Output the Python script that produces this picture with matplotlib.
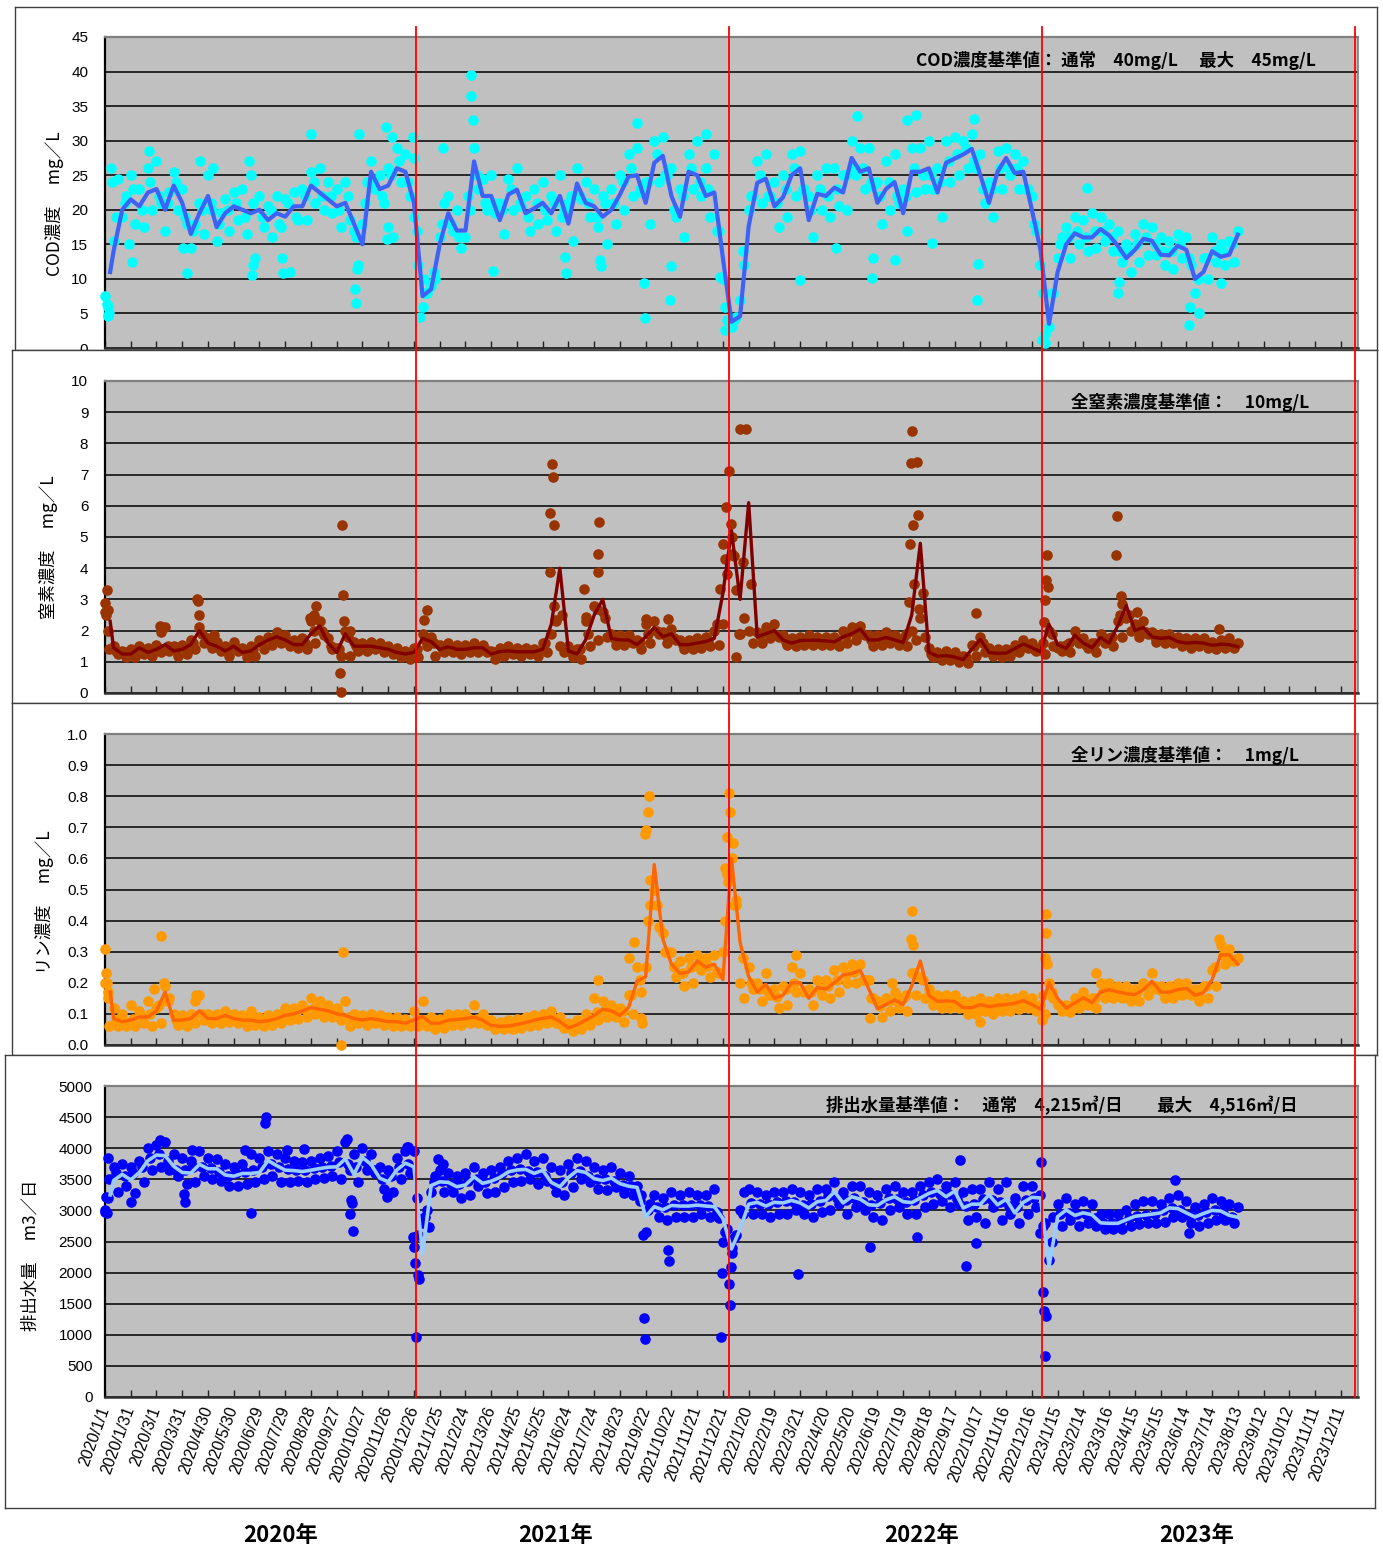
# ── IMPORTS ──────────────────────────────────────────────
import numpy as np
import pandas as pd
import matplotlib
matplotlib.use('Agg')
import matplotlib.pyplot as plt
from matplotlib.lines import Line2D

JP = ['Noto Sans CJK JP', 'DejaVu Sans']
NUM = ['Liberation Sans', 'DejaVu Sans']
plt.rcParams['font.family'] = JP

# ── DATA ─────────────────────────────────────────────────
# x values are days counted from 2020/1/1
start = pd.Timestamp('2020-01-01')
line_days = np.r_[6, np.arange(10, 1330, 10)]      # moving-average line
dot_days = np.arange(0, 1325, 5)                    # daily samples (thinned)
mid_days = np.arange(3, 1323, 10)                   # extra samples in between

cod_line = [11,
    14, 20, 21.5, 20.5, 22.5, 23, 20, 23.5, 21, 16.5,
    19.5, 22, 17.5, 19.5, 20.5, 20, 19.5, 20, 18.5, 19.5,
    19, 20.5, 20.5, 23.5, 22.5, 21.5, 20.5, 21, 18, 15,
    25.5, 23, 23.5, 26, 25.5, 21, 7.5, 8.5, 15, 19.5,
    17, 17, 27, 22, 22, 18.5, 22.2, 22.9, 19.5, 20.2,
    21, 19.5, 22, 18, 23.8, 21, 20.5, 19, 20, 22.2,
    24.8, 25, 21, 26.8, 27.8, 22, 19, 25.5, 25, 22,
    22.5, 13, 3.8, 4.6, 17.6, 23.9, 24.5, 20.5, 21.8, 25,
    26, 18.5, 22.3, 22, 23.2, 22.5, 27.5, 25.5, 26, 21,
    23, 24, 19.5, 25.5, 25.5, 26, 22.5, 26.8, 27.4, 28,
    28.8, 25, 21, 25.5, 27.5, 25.3, 25.5, 20, 14.2, 3.5,
    11, 15, 16.6, 16, 16, 17.2, 16.3, 14.8, 13, 14.2,
    15.8, 15.5, 13.5, 13.4, 14.8, 14.2, 10, 11, 14, 13.2,
    13.5, 16.4]
cod_dots = [
    7.5, 5, 15.5, 24.5, 19, 22, 25, 18, 23, 17.5,
    26, 20, 27, 21, 17, 22.5, 25.5, 20, 23, 18,
    14.5, 18, 21, 16.5, 25, 20, 15.5, 19.5, 21.5, 17,
    22.5, 18.5, 23, 16.5, 25, 13, 22, 17.5, 20.5, 16,
    22, 17.5, 21.5, 11, 22.5, 18.5, 23, 18.5, 25.5, 21,
    26, 20, 24, 19.5, 23, 17.5, 24, 18.5, 17, 12,
    18, 24, 27, 23, 25, 21, 26, 16, 29, 24,
    28, 22, 19, 12, 6, 8, 9, 10, 16, 21,
    22, 17, 20, 14.5, 16, 20, 29, 23, 24.5, 20,
    25, 19.5, 21, 16.5, 24.5, 20, 26, 20.5, 22, 17,
    23, 18, 24, 18.5, 22, 17, 25, 20, 21, 15.5,
    26, 21.5, 24, 19, 23, 17.5, 22, 15, 23, 18,
    25, 20, 28, 22, 29, 22.5, 24, 18, 30, 24,
    30.5, 25, 26, 19, 23, 16, 28, 23, 30, 22,
    26, 19, 28, 17, 10, 4, 3, 4.5, 7, 12,
    20, 22, 27, 21, 28, 22, 24, 17.5, 25, 19,
    28, 22, 28.5, 23, 22, 16, 25, 20, 26, 19,
    26, 20.5, 25, 20, 30, 25, 29, 23, 29, 23.5,
    24, 18, 27, 20, 28, 21, 23, 17, 29, 22.5,
    29, 23, 30, 23, 26, 19, 30, 24, 30.5, 25,
    30, 26, 31, 26, 28, 21, 24, 19, 28.5, 23,
    29, 25, 28, 23, 27, 23, 22, 17, 12, 2,
    3, 8, 13, 16, 17.5, 13, 19, 15, 18.5, 14,
    19.5, 14.5, 19, 15.5, 18, 14, 17, 12.5, 15, 11,
    16.5, 12.5, 18, 13.5, 17.5, 13.5, 16, 12, 15.5, 11.5,
    16.5, 13, 16, 12, 8, 5, 13, 10, 16, 12.5,
    15, 12, 15.5, 12.5, 17]
cod_mid = [6,
    19, 21, 23, 20, 24, 22, 21, 24, 19, 17,
    20, 21, 18, 20, 21, 19, 21, 19, 20, 18,
    21, 19, 22, 24, 22, 22, 20, 22, 16, 21,
    24, 22, 25, 27, 24, 17, 8, 11, 18, 18,
    16, 22, 25, 21, 21, 20, 23, 21, 19, 21,
    20, 21, 19, 22, 22, 21, 19, 21, 21, 24,
    26, 23, 24, 28, 25, 20, 22, 26, 24, 23,
    17, 6, 4, 14, 22, 25, 22, 21, 23, 26,
    23, 20, 23, 22, 23, 25, 26, 26, 24, 22,
    24, 22, 22, 26, 25, 25, 24, 27, 28, 29,
    27, 23, 23, 26, 26, 26, 23, 18, 8, 8,
    15, 16, 17, 16, 17, 17, 16, 14, 14, 15,
    16, 15, 14, 14, 15, 13, 10, 13, 14, 14,
    15]
cod_out_day = [2, 3, 7, 8, 28, 31, 51, 91, 96, 111, 126, 168, 171, 172, 206, 207,
               240, 291, 292, 294, 296, 327, 334, 330, 329, 359, 360, 367, 372, 394,
               426, 427, 429, 452, 536, 537, 577, 578, 628, 629, 658, 660, 620, 700,
               717, 722, 810, 852, 894, 895, 921, 876, 935, 945, 1013, 1016, 1017,
               964, 1144, 1092, 1095, 1180, 1181, 1263, 1264, 1300]
cod_out_val = [6.3, 4.7, 26, 24, 15, 12.5, 28.5, 14.5, 10.8, 27, 26, 27, 10.5, 12, 13, 10.8,
               31, 8.5, 6.5, 11.5, 31, 32, 30.5, 17.5, 15.8, 30.5, 27.5, 4.5, 10, 29,
               39.5, 36.5, 33, 11.2, 13.2, 10.8, 12.7, 11.8, 9.4, 4.3, 6.9, 11.8, 32.5, 31,
               10.3, 2.6, 9.9, 14.5, 10.1, 13, 12.7, 33.5, 33, 33.7, 33.2, 6.9, 12.2,
               15.2, 23.1, 1.2, 0.7, 7.9, 9.6, 3.4, 6, 9.4]

n_line = [2.3,
    1.45, 1.25, 1.25, 1.45, 1.3, 1.4, 1.55, 1.35, 1.4, 1.55,
    2.0, 1.6, 1.5, 1.35, 1.5, 1.3, 1.35, 1.55, 1.7, 1.8,
    1.7, 1.55, 1.55, 1.9, 2.15, 1.6, 1.3, 1.9, 1.5, 1.5,
    1.5, 1.45, 1.4, 1.3, 1.25, 1.3, 1.75, 1.65, 1.4, 1.48,
    1.4, 1.4, 1.45, 1.45, 1.25, 1.33, 1.35, 1.32, 1.32, 1.32,
    1.4, 2.2, 4.0, 1.35, 1.25, 1.7, 2.5, 3.0, 1.75, 1.7,
    1.7, 1.55, 1.8, 2.1, 1.8, 1.9, 1.55, 1.55, 1.6, 1.65,
    1.75, 3.2, 5.2, 3.0, 6.1, 1.8, 1.9, 2.0, 1.7, 1.6,
    1.68, 1.69, 1.69, 1.67, 1.64, 1.8, 1.9, 2.05, 1.7, 1.7,
    1.78, 1.7, 1.62, 2.5, 4.8, 1.3, 1.18, 1.2, 1.15, 1.07,
    1.4, 1.72, 1.3, 1.27, 1.28, 1.42, 1.57, 1.45, 1.32, 2.2,
    1.55, 1.43, 1.85, 1.6, 1.45, 1.78, 1.6, 2.15, 2.8, 2.0,
    2.1, 1.8, 1.75, 1.78, 1.65, 1.6, 1.62, 1.6, 1.53, 1.56,
    1.55, 1.48]
n_dots = [
    2.6, 1.4, 1.5, 1.25, 1.35, 1.15, 1.4, 1.15, 1.5, 1.25,
    1.45, 1.2, 1.55, 1.3, 2.1, 1.35, 1.5, 1.2, 1.55, 1.25,
    1.7, 1.4, 2.1, 1.6, 1.75, 1.45, 1.65, 1.35, 1.5, 1.2,
    1.65, 1.35, 1.45, 1.15, 1.5, 1.2, 1.7, 1.4, 1.8, 1.55,
    1.95, 1.6, 1.85, 1.5, 1.7, 1.45, 1.75, 1.4, 2.3, 1.6,
    2.3, 1.85, 1.75, 1.4, 1.45, 1.2, 2.0, 1.2, 1.65, 1.35,
    1.6, 1.35, 1.65, 1.4, 1.6, 1.3, 1.5, 1.25, 1.45, 1.15,
    1.35, 1.1, 1.45, 1.15, 1.9, 1.5, 1.8, 1.2, 1.55, 1.3,
    1.6, 1.3, 1.55, 1.25, 1.55, 1.3, 1.6, 1.3, 1.55, 1.3,
    1.35, 1.1, 1.45, 1.2, 1.5, 1.25, 1.45, 1.2, 1.45, 1.25,
    1.4, 1.2, 1.6, 1.3, 1.9, 2.3, 1.5, 1.3, 1.5, 1.15,
    1.4, 1.1, 2.3, 1.5, 2.8, 1.7, 2.6, 1.8, 1.9, 1.55,
    1.85, 1.55, 1.85, 1.6, 1.7, 1.4, 2.2, 1.6, 2.3, 1.9,
    1.95, 1.6, 2.05, 1.7, 1.7, 1.4, 1.7, 1.4, 1.75, 1.45,
    1.8, 1.5, 2.0, 1.55, 2.2, 3.8, 5.0, 3.3, 1.9, 2.4,
    2.0, 1.6, 1.95, 1.6, 2.1, 1.75, 2.2, 1.8, 1.85, 1.55,
    1.75, 1.5, 1.8, 1.55, 1.85, 1.55, 1.8, 1.55, 1.8, 1.55,
    1.8, 1.5, 2.0, 1.6, 2.1, 1.7, 2.15, 1.85, 1.85, 1.5,
    1.85, 1.55, 1.95, 1.6, 1.85, 1.55, 1.75, 1.5, 2.0, 1.7,
    2.4, 1.8, 1.45, 1.15, 1.3, 1.05, 1.35, 1.05, 1.3, 1.0,
    1.2, 0.95, 1.55, 1.2, 1.8, 1.3, 1.45, 1.2, 1.4, 1.15,
    1.4, 1.2, 1.55, 1.3, 1.7, 1.45, 1.6, 1.35, 1.45, 1.25,
    2.0, 1.5, 1.45, 1.35, 1.55, 1.3, 2.0, 1.6, 1.75, 1.45,
    1.6, 1.3, 1.9, 1.6, 1.75, 1.5, 2.3, 1.8, 2.4, 2.0,
    2.2, 1.8, 2.3, 1.9, 1.95, 1.65, 1.9, 1.6, 1.9, 1.6,
    1.8, 1.5, 1.75, 1.45, 1.75, 1.5, 1.75, 1.45, 1.65, 1.4,
    1.7, 1.45, 1.75, 1.45, 1.6]
n_mid = [2.0,
    1.35, 1.3, 1.3, 1.4, 1.35, 1.45, 1.5, 1.4, 1.45, 1.6,
    1.9, 1.55, 1.45, 1.4, 1.45, 1.35, 1.4, 1.6, 1.75, 1.75,
    1.65, 1.55, 1.6, 2.0, 2.0, 1.5, 1.4, 1.8, 1.5, 1.5,
    1.5, 1.45, 1.35, 1.3, 1.25, 1.4, 1.7, 1.6, 1.45, 1.45,
    1.4, 1.45, 1.45, 1.4, 1.3, 1.35, 1.35, 1.3, 1.35, 1.35,
    1.6, 2.8, 2.5, 1.3, 1.4, 1.9, 2.7, 2.4, 1.75, 1.7,
    1.65, 1.65, 1.9, 2.0, 1.85, 1.75, 1.55, 1.6, 1.6, 1.7,
    2.2, 4.3, 4.4, 4.2, 3.5, 1.85, 1.95, 1.85, 1.65, 1.65,
    1.7, 1.7, 1.7, 1.65, 1.7, 1.85, 1.95, 1.9, 1.7, 1.75,
    1.75, 1.65, 1.9, 3.5, 3.2, 1.25, 1.2, 1.2, 1.1, 1.15,
    1.5, 1.6, 1.3, 1.3, 1.35, 1.5, 1.5, 1.4, 1.6, 1.9,
    1.5, 1.6, 1.75, 1.55, 1.6, 1.7, 1.8, 2.5, 2.5, 2.05,
    1.95, 1.8, 1.75, 1.72, 1.62, 1.6, 1.62, 1.58, 1.55, 1.55,
    1.52]
n_out_day = [0, 1, 2, 4, 64, 65, 107, 108, 109, 127, 239, 246, 244, 276, 277, 278,
             274, 275, 285, 375, 372, 521, 522, 519, 523, 518, 524, 576, 574, 575,
             558, 560, 656, 630, 727, 724, 720, 717, 740, 747, 729, 730, 735, 739,
             940, 939, 946, 947, 941, 938, 937, 948, 1015, 1098, 1097, 1099, 1095,
             1094, 1179, 1178, 1184, 1185, 1202, 1298]
n_out_val = [2.9, 2.5, 3.3, 2.65, 2.15, 1.95, 3.0, 2.95, 2.5, 1.85, 2.4, 2.8, 2.5, 5.4, 3.15, 2.3,
             0.65, 0.02, 2.0, 2.65, 2.33, 7.33, 6.93, 5.76, 5.39, 3.87, 2.33, 5.49, 4.46, 3.87,
             3.34, 2.44, 2.38, 2.38, 7.12, 5.97, 4.78, 3.34, 8.45, 8.45, 5.41, 4.46, 1.16, 1.9,
             8.39, 7.38, 7.41, 5.7, 5.39, 4.78, 2.91, 2.7, 2.56, 4.43, 3.61, 3.39, 2.97,
             2.28, 5.68, 4.43, 3.1, 2.86, 2.6, 2.06]

p_line = [0.17,
    0.085, 0.075, 0.08, 0.09, 0.09, 0.11, 0.17, 0.08, 0.08, 0.085,
    0.11, 0.085, 0.085, 0.095, 0.085, 0.08, 0.08, 0.075, 0.078, 0.085,
    0.095, 0.1, 0.11, 0.12, 0.115, 0.11, 0.1, 0.095, 0.085, 0.08,
    0.085, 0.08, 0.075, 0.075, 0.07, 0.08, 0.092, 0.07, 0.07, 0.08,
    0.082, 0.085, 0.09, 0.08, 0.063, 0.06, 0.061, 0.066, 0.072, 0.08,
    0.086, 0.09, 0.075, 0.055, 0.065, 0.08, 0.095, 0.115, 0.11, 0.095,
    0.12, 0.205, 0.22, 0.58, 0.34, 0.26, 0.23, 0.235, 0.27, 0.25,
    0.26, 0.21, 0.6, 0.33, 0.22, 0.17, 0.195, 0.15, 0.16, 0.2,
    0.2, 0.15, 0.185, 0.18, 0.2, 0.225, 0.23, 0.24, 0.18, 0.117,
    0.13, 0.145, 0.13, 0.19, 0.27, 0.16, 0.14, 0.142, 0.14, 0.12,
    0.12, 0.13, 0.123, 0.128, 0.13, 0.134, 0.143, 0.13, 0.115, 0.2,
    0.15, 0.118, 0.135, 0.152, 0.136, 0.17, 0.178, 0.171, 0.165, 0.162,
    0.178, 0.205, 0.17, 0.17, 0.178, 0.182, 0.16, 0.168, 0.21, 0.29,
    0.29, 0.26]
p_dots = [
    0.2, 0.06, 0.12, 0.06, 0.1, 0.06, 0.13, 0.06, 0.11, 0.07,
    0.14, 0.06, 0.12, 0.07, 0.19, 0.15, 0.1, 0.065, 0.095, 0.06,
    0.1, 0.07, 0.16, 0.08, 0.1, 0.07, 0.1, 0.07, 0.11, 0.075,
    0.1, 0.07, 0.095, 0.06, 0.11, 0.065, 0.09, 0.06, 0.095, 0.065,
    0.1, 0.07, 0.12, 0.08, 0.12, 0.085, 0.13, 0.09, 0.15, 0.1,
    0.14, 0.09, 0.13, 0.09, 0.12, 0.08, 0.14, 0.06, 0.1, 0.07,
    0.095, 0.065, 0.1, 0.07, 0.095, 0.065, 0.09, 0.06, 0.09, 0.06,
    0.085, 0.06, 0.11, 0.06, 0.14, 0.06, 0.09, 0.05, 0.085, 0.055,
    0.1, 0.065, 0.1, 0.065, 0.1, 0.07, 0.13, 0.07, 0.1, 0.065,
    0.08, 0.05, 0.075, 0.05, 0.08, 0.05, 0.085, 0.055, 0.09, 0.06,
    0.095, 0.065, 0.1, 0.07, 0.11, 0.07, 0.09, 0.055, 0.07, 0.045,
    0.08, 0.05, 0.1, 0.065, 0.15, 0.08, 0.14, 0.09, 0.13, 0.09,
    0.12, 0.075, 0.16, 0.1, 0.25, 0.17, 0.25, 0.45, 0.5, 0.38,
    0.36, 0.3, 0.3, 0.22, 0.27, 0.19, 0.28, 0.2, 0.29, 0.24,
    0.28, 0.22, 0.29, 0.23, 0.3, 0.55, 0.6, 0.45, 0.2, 0.15,
    0.25, 0.18, 0.2, 0.14, 0.23, 0.16, 0.18, 0.12, 0.19, 0.13,
    0.25, 0.17, 0.23, 0.17, 0.18, 0.13, 0.21, 0.16, 0.21, 0.15,
    0.24, 0.17, 0.25, 0.2, 0.26, 0.2, 0.26, 0.21, 0.21, 0.15,
    0.14, 0.09, 0.15, 0.11, 0.17, 0.12, 0.15, 0.11, 0.23, 0.16,
    0.22, 0.15, 0.18, 0.13, 0.16, 0.12, 0.16, 0.12, 0.16, 0.12,
    0.14, 0.1, 0.14, 0.1, 0.15, 0.11, 0.14, 0.1, 0.15, 0.11,
    0.15, 0.11, 0.15, 0.115, 0.16, 0.12, 0.15, 0.11, 0.13, 0.1,
    0.2, 0.15, 0.13, 0.11, 0.13, 0.105, 0.15, 0.12, 0.17, 0.13,
    0.15, 0.12, 0.2, 0.15, 0.2, 0.15, 0.19, 0.15, 0.19, 0.14,
    0.18, 0.14, 0.2, 0.16, 0.23, 0.18, 0.19, 0.15, 0.19, 0.15,
    0.2, 0.16, 0.2, 0.16, 0.18, 0.14, 0.19, 0.15, 0.24, 0.19,
    0.32, 0.26, 0.31, 0.27, 0.28]
p_mid = [0.15,
    0.08, 0.075, 0.085, 0.09, 0.1, 0.13, 0.14, 0.08, 0.085, 0.095,
    0.1, 0.085, 0.09, 0.09, 0.085, 0.08, 0.08, 0.078, 0.08, 0.09,
    0.1, 0.105, 0.115, 0.12, 0.11, 0.105, 0.1, 0.09, 0.085, 0.082,
    0.085, 0.078, 0.075, 0.072, 0.075, 0.085, 0.08, 0.07, 0.075, 0.08,
    0.085, 0.087, 0.085, 0.07, 0.062, 0.06, 0.063, 0.07, 0.076, 0.083,
    0.088, 0.083, 0.065, 0.06, 0.072, 0.088, 0.105, 0.112, 0.1, 0.11,
    0.16, 0.21, 0.4, 0.45, 0.3, 0.25, 0.23, 0.25, 0.26, 0.255,
    0.235, 0.4, 0.45, 0.28, 0.2, 0.18, 0.17, 0.155, 0.18, 0.2,
    0.175, 0.17, 0.18, 0.19, 0.21, 0.228, 0.235, 0.21, 0.15, 0.125,
    0.14, 0.14, 0.16, 0.23, 0.21, 0.15, 0.14, 0.14, 0.13, 0.12,
    0.125, 0.127, 0.125, 0.13, 0.132, 0.138, 0.137, 0.122, 0.16, 0.17,
    0.13, 0.125, 0.145, 0.145, 0.15, 0.175, 0.175, 0.168, 0.163, 0.17,
    0.19, 0.19, 0.17, 0.175, 0.18, 0.172, 0.164, 0.19, 0.25, 0.29,
    0.275]
p_out_day = [0, 1, 2, 3, 65, 57, 69, 106, 105, 277, 275, 634, 633, 630, 629, 635,
             616, 611, 574, 625, 626, 727, 728, 725, 732, 722, 726, 735, 805, 940,
             939, 941, 917, 1096, 1097, 1095, 1098, 1092, 1020, 1298, 1155, 891]
p_out_val = [0.31, 0.23, 0.2, 0.17, 0.35, 0.18, 0.2, 0.16, 0.14, 0.3, 0.0, 0.8, 0.75, 0.69, 0.68, 0.53,
             0.33, 0.28, 0.21, 0.086, 0.07, 0.81, 0.75, 0.67, 0.65, 0.57, 0.525, 0.466, 0.29, 0.43,
             0.34, 0.32, 0.2, 0.42, 0.36, 0.28, 0.26, 0.08, 0.075, 0.34, 0.23, 0.086]

q_line = [3250,
    3480, 3580, 3490, 3610, 3800, 3890, 3880, 3710, 3610, 3600,
    3740, 3670, 3670, 3570, 3550, 3594, 3594, 3610, 3800, 3720,
    3647, 3640, 3625, 3647, 3672, 3695, 3700, 3830, 3580, 3850,
    3740, 3520, 3460, 3650, 3760, 3700, 2300, 3400, 3460, 3450,
    3380, 3410, 3540, 3435, 3470, 3530, 3620, 3650, 3660, 3595,
    3645, 3450, 3380, 3530, 3640, 3610, 3510, 3480, 3520, 3430,
    3390, 3370, 2900, 3060, 3010, 3080, 3070, 3070, 3085, 3070,
    3060, 2870, 2380, 2700, 3100, 3130, 3070, 3130, 3120, 3160,
    3120, 3040, 3140, 3160, 3300, 3120, 3220, 3180, 3090, 3080,
    3170, 3220, 3140, 3125, 3200, 3274, 3320, 3220, 3310, 3040,
    3100, 3100, 3250, 3090, 3180, 2960, 3130, 3210, 3200, 2100,
    2900, 3006, 2920, 2960, 2930, 2800, 2792, 2792, 2850, 2905,
    2922, 2940, 2960, 3040, 3030, 2960, 2895, 2950, 3000, 2990,
    2920, 2890]
q_dots = [
    3000, 3500, 3700, 3300, 3750, 3400, 3700, 3280, 3800, 3450,
    4000, 3650, 4050, 3700, 4100, 3650, 3900, 3550, 3850, 3420,
    3800, 3450, 3950, 3550, 3850, 3500, 3820, 3480, 3750, 3400,
    3700, 3400, 3750, 3420, 3900, 3450, 3850, 3500, 3950, 3550,
    3900, 3450, 3850, 3450, 3800, 3480, 3780, 3460, 3800, 3500,
    3850, 3520, 3880, 3550, 3950, 3500, 4100, 3650, 3900, 3450,
    4000, 3650, 3900, 3600, 3700, 3350, 3650, 3300, 3850, 3500,
    3950, 3600, 3950, 2600, 2800, 3000, 3300, 3550, 3650, 3300,
    3600, 3300, 3550, 3200, 3600, 3250, 3700, 3400, 3600, 3280,
    3650, 3300, 3700, 3380, 3800, 3450, 3850, 3480, 3900, 3500,
    3800, 3420, 3850, 3480, 3700, 3300, 3650, 3250, 3750, 3380,
    3850, 3500, 3800, 3450, 3700, 3350, 3650, 3330, 3700, 3380,
    3600, 3280, 3550, 3250, 3400, 3250, 2650, 3100, 3250, 2900,
    3200, 2850, 3300, 2900, 3250, 2900, 3300, 2900, 3250, 2950,
    3250, 2900, 3350, 2880, 2500, 2700, 2400, 2600, 3000, 3300,
    3350, 2950, 3300, 2950, 3250, 2900, 3300, 2950, 3300, 2950,
    3350, 3000, 3300, 2950, 3250, 2900, 3350, 2980, 3350, 3000,
    3450, 3100, 3300, 2950, 3400, 3050, 3400, 3000, 3300, 2900,
    3250, 2850, 3350, 3000, 3400, 3050, 3300, 2950, 3300, 2950,
    3400, 3050, 3450, 3100, 3500, 3150, 3400, 3050, 3450, 3100,
    3300, 2850, 3350, 2900, 3350, 2800, 3450, 3050, 3350, 2850,
    3450, 2950, 3200, 2800, 3400, 2950, 3400, 3050, 3250, 2800,
    2200, 2900, 3100, 2750, 3200, 2850, 3100, 2750, 3150, 2800,
    3100, 2750, 2950, 2700, 2950, 2700, 2950, 2700, 3000, 2750,
    3100, 2780, 3150, 2800, 3150, 2800, 3100, 2820, 3200, 2900,
    3250, 2900, 3150, 2800, 3050, 2750, 3100, 2800, 3200, 2850,
    3150, 2850, 3100, 2800, 3050]
q_mid = [3200,
    3600, 3550, 3600, 3700, 3850, 3900, 3800, 3650, 3650, 3700,
    3700, 3680, 3620, 3560, 3600, 3620, 3650, 3700, 3750, 3700,
    3660, 3650, 3650, 3680, 3700, 3720, 3780, 3750, 3700, 3800,
    3650, 3500, 3550, 3700, 3750, 3200, 2900, 3450, 3480, 3420,
    3420, 3480, 3500, 3460, 3520, 3600, 3650, 3670, 3630, 3620,
    3560, 3420, 3450, 3600, 3630, 3560, 3500, 3500, 3480, 3410,
    3400, 3150, 3000, 3050, 3050, 3080, 3080, 3080, 3080, 3070,
    2980, 2650, 2550, 2950, 3120, 3100, 3100, 3130, 3150, 3140,
    3080, 3100, 3150, 3230, 3200, 3170, 3200, 3140, 3090, 3120,
    3200, 3180, 3130, 3160, 3240, 3300, 3270, 3260, 3180, 3070,
    3100, 3180, 3170, 3140, 3070, 3050, 3170, 3200, 2750, 2500,
    2950, 2960, 2940, 2950, 2870, 2800, 2800, 2820, 2880, 2910,
    2930, 2950, 3000, 3040, 3000, 2930, 2920, 2980, 3000, 2960,
    2900]
q_out_day = [188, 187, 170, 30, 92, 93, 287, 288, 285, 289, 282, 329, 359, 360, 361,
             365, 366, 362, 370, 377, 388, 394, 0, 2, 1, 4, 64, 101, 163, 212, 232,
             352, 353, 627, 628, 629, 656, 657, 718, 719, 727, 728, 729, 730, 807,
             891, 946, 996, 1003, 1015, 1091, 1090, 1093, 1094, 1096, 1095, 1247,
             1263, 1304]
q_out_val = [4503, 4407, 2963, 3129, 3262, 3129, 3166, 3123, 2941, 2669, 4155, 3219, 2578, 2407, 2150,
             1963, 1893, 957, 2872, 2727, 3834, 3754, 2979, 2952, 3219, 3850, 4129, 3968, 3968, 3968, 3995,
             4022, 4024, 2605, 1278, 936, 2364, 2193, 962, 2000, 1818, 1481, 2097, 2311, 1979,
             2418, 2568, 3810, 2113, 2471, 3783, 2632, 1684, 1390, 1304, 662, 3488,
             2643, 3087]

# year separators and bottom year captions
sep_dates = ['2020-12-28', '2021-12-28', '2022-12-28', '2023-12-28']
year_labels = ['2020年', '2021年', '2022年', '2023年']
year_label_x = [281, 556, 922, 1197]

# ── LAYOUT (pixels of the 1383x1548 picture) ─────────────
W, H = 1383, 1548
def frac(l, t, r, b):
    return [l / W, 1 - b / H, (r - l) / W, (b - t) / H]

panels = [
    dict(box=(15, 7, 1377, 350), area=(105, 37, 1358, 348),
         dots=cod_dots, mid=cod_mid, line=cod_line, out_d=cod_out_day, out_v=cod_out_val,
         dc='#00FFFF', lc='#3D62F5', lw=3.0,
         ylim=(0, 45), yticks=np.arange(0, 46, 5), yfmt='{:.0f}',
         ylabel='COD濃度　 mg／L', ylab_x=54, ylab_y=204,
         title='COD濃度基準値： 通常　40mg/L　 最大　45mg/L', t_x=1316, t_y=60),
    dict(box=(12, 350, 1377, 703), area=(105, 381, 1358, 693),
         dots=n_dots, mid=n_mid, line=n_line, out_d=n_out_day, out_v=n_out_val,
         dc='#993300', lc='#800000', lw=2.4,
         ylim=(0, 10), yticks=np.arange(0, 11, 1), yfmt='{:.0f}',
         ylabel='窒素濃度　 mg／L', ylab_x=48, ylab_y=547,
         title='全窒素濃度基準値：　10mg/L', t_x=1309, t_y=402),
    dict(box=(12, 703, 1377, 1055), area=(105, 734, 1358, 1045),
         dots=p_dots, mid=p_mid, line=p_line, out_d=p_out_day, out_v=p_out_val,
         dc='#FF9900', lc='#FF6600', lw=2.4,
         ylim=(0, 1.0), yticks=np.arange(0, 1.01, 0.1), yfmt='{:.1f}',
         ylabel='リン濃度　 mg／L', ylab_x=44, ylab_y=902,
         title='全リン濃度基準値：　1mg/L', t_x=1299, t_y=755),
    dict(box=(5, 1055, 1375, 1508), area=(105, 1086, 1358, 1397),
         dots=q_dots, mid=q_mid, line=q_line, out_d=q_out_day, out_v=q_out_val,
         dc='#0000FF', lc='#99CCFF', lw=2.6,
         ylim=(0, 5000), yticks=np.arange(0, 5001, 500), yfmt='{:.0f}',
         ylabel='排出水量　 m3／日', ylab_x=31, ylab_y=1255,
         title='排出水量基準値：　通常　4,215㎥/日　　最大　4,516㎥/日', t_x=1298, t_y=1106),
]

XMAX = 1460
tick_days = np.arange(0, 1441, 30)
tick_labels = [f'{t.year}/{t.month}/{t.day}'
               for t in (start + pd.to_timedelta(tick_days, unit='D'))]

DOT = 58   # marker area, points^2

# ── DRAW ─────────────────────────────────────────────────
fig = plt.figure(figsize=(W / 100, H / 100), dpi=100)
fig.patch.set_facecolor('white')

axes = []
for k, p in enumerate(panels):
    # white chart area with thin border (later panels sit on top)
    bg = fig.add_axes(frac(*p['box']))
    bg.set_zorder(2 * k)
    bg.set_xticks([]); bg.set_yticks([])
    bg.set_facecolor('white')
    for s in bg.spines.values():
        s.set_color('#404040'); s.set_linewidth(1.0)

    ax = fig.add_axes(frac(*p['area']))
    ax.set_zorder(2 * k + 1)
    ax.set_facecolor('#C0C0C0')
    ax.set_xlim(0, XMAX)
    ax.set_ylim(*p['ylim'])
    ax.set_yticks(p['yticks'])
    ax.set_yticklabels([p['yfmt'].format(v) for v in p['yticks']], family=NUM, fontsize=11)
    ax.tick_params(axis='y', length=0, pad=12 if k < 3 else 9)
    ax.yaxis.grid(True, color='black', lw=1.1)
    ax.set_axisbelow(True)

    ax.set_xticks(tick_days)
    ax.tick_params(axis='x', direction='in', length=5, width=1, color='#202020')
    if k == 3:
        ax.set_xticklabels(tick_labels, rotation=70, ha='right', va='center',
                           rotation_mode='anchor', family=NUM, fontsize=11.5)
        ax.tick_params(axis='x', pad=7)
    else:
        ax.set_xticklabels([])

    ax.spines['left'].set_color('black'); ax.spines['left'].set_linewidth(1.6)
    ax.spines['bottom'].set_color('#303030'); ax.spines['bottom'].set_linewidth(1.8)
    ax.spines['top'].set_color('#808080'); ax.spines['top'].set_linewidth(1.6)
    ax.spines['right'].set_color('#808080'); ax.spines['right'].set_linewidth(1.2)

    ax.scatter(dot_days, p['dots'], s=DOT, c=p['dc'], linewidths=0, zorder=3, clip_on=False)
    ax.scatter(mid_days, p['mid'], s=DOT, c=p['dc'], linewidths=0, zorder=3, clip_on=False)
    ax.scatter(p['out_d'], p['out_v'], s=DOT, c=p['dc'], linewidths=0, zorder=3, clip_on=False)
    ax.plot(line_days, p['line'], color=p['lc'], lw=p['lw'], zorder=4, solid_joinstyle='round')

    # standard-value note and axis title
    l, t, r, b = p['area']
    ax.text((p['t_x'] - l) / (r - l), (b - p['t_y']) / (b - t), p['title'],
            transform=ax.transAxes, ha='right', va='center', fontsize=12.5,
            fontweight='bold', family=JP, zorder=6)
    ax.text((p['ylab_x'] - l) / (r - l), (b - p['ylab_y']) / (b - t), p['ylabel'],
            transform=ax.transAxes, rotation=90, ha='center', va='center',
            fontsize=12.5, family=JP)
    axes.append(ax)

# red separators running through all four charts
inv = fig.transFigure.inverted()
for d in sep_dates:
    day = (pd.Timestamp(d) - start).days
    xf = inv.transform(axes[3].transData.transform((day, 0)))[0]
    fig.add_artist(Line2D([xf, xf], [1 - 27 / H, 1 - 1397 / H], color='red',
                          lw=1.3, zorder=50, transform=fig.transFigure))

for lab, xp in zip(year_labels, year_label_x):
    fig.text(xp / W, 1 - 1535 / H, lab, ha='center', va='center',
             fontsize=16, fontweight='bold', family=JP, zorder=51)

fig.savefig('out.png', dpi=100)
